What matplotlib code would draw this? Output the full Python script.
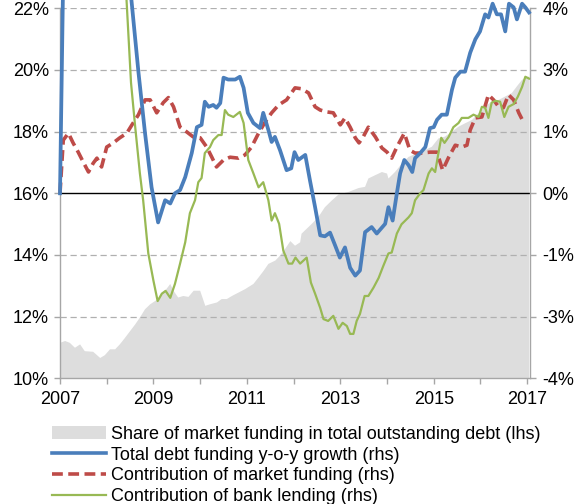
import matplotlib
matplotlib.use("Agg")
import matplotlib.pyplot as plt
from matplotlib.lines import Line2D
from matplotlib.patches import Patch
import numpy as np

plt.rcParams['font.family'] = ['Liberation Sans', 'DejaVu Sans']

# ---- data (rhs series, % y-o-y) ----
total_t = [2007.00, 2007.08, 2008.45, 2008.68, 2008.82, 2008.96, 2009.10, 2009.25, 2009.36, 2009.46,
           2009.57, 2009.68, 2009.82, 2009.93, 2010.03, 2010.10, 2010.18, 2010.28, 2010.35, 2010.43,
           2010.50, 2010.60, 2010.75, 2010.85, 2010.93, 2011.02, 2011.14, 2011.28, 2011.35, 2011.46,
           2011.53, 2011.60, 2011.71, 2011.85, 2011.95, 2012.02, 2012.10, 2012.25, 2012.35, 2012.46,
           2012.57, 2012.67, 2012.78, 2012.89, 2012.99, 2013.10, 2013.21, 2013.32, 2013.42, 2013.53,
           2013.67, 2013.78, 2013.96, 2014.03, 2014.12, 2014.21, 2014.28, 2014.37, 2014.46, 2014.54,
           2014.60, 2014.71, 2014.82, 2014.92, 2015.00, 2015.07, 2015.17, 2015.28, 2015.39, 2015.46,
           2015.57, 2015.67, 2015.78, 2015.89, 2015.99, 2016.10, 2016.17, 2016.26, 2016.35, 2016.44,
           2016.53, 2016.61, 2016.71, 2016.78, 2016.89, 2016.96, 2017.04]
total_v = [0.0, 5.5, 5.0, 2.61, 1.30, 0.13, -0.63, -0.15, -0.22, 0.0,
           0.07, 0.35, 0.87, 1.43, 1.48, 1.98, 1.87, 1.91, 1.85, 1.95,
           2.50, 2.46, 2.46, 2.52, 2.28, 1.74, 1.52, 1.41, 1.74, 1.37,
           1.11, 1.22, 0.93, 0.50, 0.54, 0.89, 0.72, 0.83, 0.28, -0.30,
           -0.91, -0.93, -0.85, -1.13, -1.39, -1.17, -1.61, -1.78, -1.67, -0.84,
           -0.73, -0.87, -0.66, -0.30, -0.59, 0.0, 0.43, 0.72, 0.61, 0.46,
           0.76, 0.87, 1.00, 1.41, 1.43, 1.59, 1.70, 1.70, 2.24, 2.50,
           2.63, 2.63, 3.04, 3.33, 3.50, 3.87, 3.80, 4.10, 3.87, 3.87,
           3.50, 4.10, 4.02, 3.76, 4.10, 4.02, 3.91]

market_t = [2007.00, 2007.07, 2007.18, 2007.28, 2007.39, 2007.50, 2007.61, 2007.71, 2007.79, 2007.89,
            2008.00, 2008.14, 2008.28, 2008.43, 2008.54, 2008.68, 2008.82, 2008.93, 2009.07, 2009.21,
            2009.32, 2009.43, 2009.57, 2009.71, 2009.85, 2010.00, 2010.14, 2010.25, 2010.35, 2010.50,
            2010.64, 2010.82, 2010.96, 2011.10, 2011.25, 2011.39, 2011.53, 2011.68, 2011.85, 2012.03,
            2012.17, 2012.32, 2012.46, 2012.57, 2012.71, 2012.85, 2013.00, 2013.10, 2013.21, 2013.32,
            2013.40, 2013.49, 2013.60, 2013.75, 2013.89, 2014.00, 2014.10, 2014.21, 2014.37, 2014.49,
            2014.60, 2014.74, 2014.92, 2015.07, 2015.19, 2015.32, 2015.46, 2015.60, 2015.71, 2015.78,
            2015.89, 2016.03, 2016.17, 2016.28, 2016.39, 2016.49, 2016.60, 2016.71, 2016.82, 2016.92]
market_v = [0.0, 1.15, 1.30, 1.09, 0.89, 0.67, 0.46, 0.65, 0.76, 0.57,
            1.00, 1.09, 1.20, 1.30, 1.48, 1.70, 2.02, 2.02, 1.74, 1.96,
            2.07, 1.87, 1.43, 1.33, 1.22, 1.20, 1.00, 0.78, 0.57, 0.72,
            0.78, 0.76, 0.83, 1.00, 1.30, 1.54, 1.74, 1.91, 2.02, 2.28,
            2.26, 2.17, 1.87, 1.80, 1.76, 1.74, 1.48, 1.63, 1.43, 1.20,
            1.09, 1.22, 1.43, 1.22, 0.98, 0.89, 0.76, 1.00, 1.30, 0.93,
            0.87, 0.87, 0.89, 0.89, 0.50, 0.78, 1.04, 1.00, 1.04, 1.37,
            1.63, 1.65, 2.13, 2.02, 1.87, 1.85, 2.13, 2.02, 1.74, 1.54]

bank_t = [2007.00, 2007.08, 2008.38, 2008.52, 2008.61, 2008.71, 2008.78, 2008.89, 2009.00, 2009.09,
          2009.18, 2009.26, 2009.36, 2009.46, 2009.57, 2009.68, 2009.78, 2009.89, 2009.96, 2010.03,
          2010.10, 2010.21, 2010.28, 2010.39, 2010.46, 2010.53, 2010.60, 2010.71, 2010.85, 2010.93,
          2011.03, 2011.14, 2011.25, 2011.35, 2011.46, 2011.53, 2011.60, 2011.69, 2011.78, 2011.89,
          2011.97, 2012.04, 2012.14, 2012.28, 2012.37, 2012.46, 2012.57, 2012.64, 2012.74, 2012.85,
          2012.96, 2013.05, 2013.14, 2013.21, 2013.28, 2013.35, 2013.42, 2013.52, 2013.60, 2013.71,
          2013.82, 2013.92, 2014.03, 2014.10, 2014.21, 2014.31, 2014.46, 2014.53, 2014.60, 2014.71,
          2014.78, 2014.89, 2014.96, 2015.03, 2015.10, 2015.16, 2015.23, 2015.32, 2015.42, 2015.53,
          2015.60, 2015.74, 2015.85, 2015.96, 2016.03, 2016.10, 2016.17, 2016.24, 2016.32, 2016.42,
          2016.51, 2016.60, 2016.71, 2016.80, 2016.89, 2016.96, 2017.04]
bank_v = [0.0, 6.0, 5.0, 2.39, 1.43, 0.43, -0.15, -1.30, -1.89, -2.33,
          -2.17, -2.11, -2.26, -1.96, -1.52, -1.06, -0.43, -0.15, 0.24, 0.33,
          0.87, 1.00, 1.15, 1.26, 1.26, 1.80, 1.70, 1.65, 1.76, 1.52,
          0.72, 0.43, 0.13, 0.24, -0.15, -0.59, -0.43, -0.66, -1.24, -1.52,
          -1.52, -1.39, -1.52, -1.39, -1.93, -2.17, -2.48, -2.72, -2.76, -2.65,
          -2.93, -2.80, -2.87, -3.04, -3.04, -2.76, -2.61, -2.22, -2.22, -2.04,
          -1.83, -1.57, -1.30, -1.28, -0.87, -0.67, -0.52, -0.43, -0.15, 0.00,
          0.07, 0.43, 0.54, 0.46, 0.87, 1.20, 1.09, 1.22, 1.43, 1.52,
          1.63, 1.63, 1.70, 1.65, 1.87, 1.85, 1.63, 1.96, 2.00, 1.98,
          1.65, 1.87, 1.93, 2.09, 2.30, 2.52, 2.48]

# ---- data (lhs, share of market funding, %) ----
share_t = [2007.00, 2007.11, 2007.21, 2007.32, 2007.43, 2007.53, 2007.71, 2007.86, 2007.96, 2008.07,
           2008.18, 2008.28, 2008.39, 2008.50, 2008.61, 2008.71, 2008.82, 2008.93, 2009.04, 2009.14,
           2009.25, 2009.36, 2009.43, 2009.53, 2009.64, 2009.75, 2009.86, 2010.00, 2010.11, 2010.21,
           2010.36, 2010.46, 2010.57, 2010.68, 2010.82, 2010.96, 2011.14, 2011.25, 2011.36, 2011.46,
           2011.61, 2011.71, 2011.82, 2011.93, 2012.03, 2012.14, 2012.17, 2012.39, 2012.53, 2012.67,
           2012.82, 2012.96, 2013.17, 2013.39, 2013.53, 2013.60, 2013.75, 2013.89, 2014.00, 2014.03,
           2014.17, 2014.32, 2014.46, 2014.60, 2014.74, 2014.96, 2015.10, 2015.24, 2015.39, 2015.53,
           2015.67, 2015.82, 2015.96, 2016.10, 2016.24, 2016.39, 2016.53, 2016.67, 2016.78, 2016.89,
           2016.96, 2017.04]
share_v = [11.15, 11.21, 11.15, 10.99, 11.10, 10.88, 10.86, 10.66, 10.75, 10.94,
           10.94, 11.10, 11.31, 11.53, 11.75, 11.97, 12.24, 12.40, 12.51, 12.62,
           12.84, 13.06, 12.84, 12.62, 12.67, 12.64, 12.84, 12.84, 12.35, 12.40,
           12.46, 12.57, 12.57, 12.67, 12.78, 12.89, 13.06, 13.27, 13.49, 13.71,
           13.82, 13.98, 14.20, 14.45, 14.30, 14.41, 14.69, 15.01, 15.23, 15.55,
           15.77, 15.96, 16.04, 16.17, 16.21, 16.48, 16.59, 16.69, 16.64, 16.48,
           16.69, 16.97, 17.18, 17.27, 17.35, 17.51, 17.78, 17.84, 18.00, 18.16,
           18.27, 18.38, 18.60, 18.81, 18.98, 19.03, 19.14, 19.25, 19.47, 19.68,
           19.74, 19.79]

years = list(range(2007, 2018))
left_ticks = [10, 12, 14, 16, 18, 20, 22]

legend_labels = ["Share of market funding in total outstanding debt (lhs)",
                 "Total debt funding y-o-y growth (rhs)",
                 "Contribution of market funding (rhs)",
                 "Contribution of bank lending (rhs)"]

C_GREY = "#dddddd"
C_BLUE = "#4a7ebb"
C_RED = "#be4b48"
C_GREEN = "#98b954"
C_AXIS = "#a6a6a6"

FS = 13

fig = plt.figure(figsize=(5.82, 5.04), dpi=100)
ax = fig.add_axes([60/582, 1-378.3/504, 470/582, 370/504])
ax2 = ax.twinx()

ax.fill_between(share_t, 0, share_v, color=C_GREY, lw=0, zorder=1)
ax.set_ylim(10, 22)
ax.set_xlim(2007, 2017.06)
for t in left_ticks:
    if t in (10, 16):
        continue
    ax.axhline(t, color="#b0b0b0", lw=0.9, ls=(0, (5, 3)), zorder=2)

ax2.set_ylim(-4, 4)
ax2.axhline(0, color="black", lw=1.0, zorder=2)
ax2.plot(market_t, market_v, color=C_RED, lw=2.6, ls=(0, (3.0, 1.5)), zorder=3, clip_on=False)
ax2.plot(bank_t, bank_v, color=C_GREEN, lw=1.6, zorder=4, clip_on=False)
ax2.plot(total_t, total_v, color=C_BLUE, lw=2.7, zorder=5, clip_on=False)

ax.set_yticks(left_ticks)
ax.set_yticklabels([f"{t}%" for t in left_ticks], fontsize=FS)
rt = np.linspace(-4, 4, 7)
ax2.set_yticks(rt)
ax2.set_yticklabels([f"{v:.0f}%" for v in rt], fontsize=FS)

ax.set_xticks(years)
ax.set_xticklabels([str(y) if (y - 2007) % 2 == 0 else "" for y in years], fontsize=FS)

for a in (ax, ax2):
    a.spines['top'].set_visible(False)
    for s in ('left', 'right', 'bottom'):
        a.spines[s].set_color(C_AXIS)
        a.spines[s].set_linewidth(1.0)
    a.tick_params(colors=C_AXIS, labelcolor="black", length=4, width=1.0, direction='out')
ax.spines['right'].set_visible(False)
ax2.spines['left'].set_visible(False)
ax2.spines['bottom'].set_visible(False)
ax.tick_params(axis='x', pad=5)
ax.tick_params(axis='y', pad=4)
ax2.tick_params(axis='y', pad=5)

handles = [Patch(facecolor=C_GREY, edgecolor='none'),
           Line2D([], [], color=C_BLUE, lw=2.6),
           Line2D([], [], color=C_RED, lw=2.6, ls=(0, (3.0, 1.5))),
           Line2D([], [], color=C_GREEN, lw=1.6)]
fig.legend(handles, legend_labels, loc='upper left', bbox_to_anchor=(52/582, 1-426/504),
           frameon=False, fontsize=FS, handlelength=3.0, handletextpad=0.25,
           labelspacing=0.2, borderpad=0, borderaxespad=0)

fig.savefig("out.png", dpi=100)
